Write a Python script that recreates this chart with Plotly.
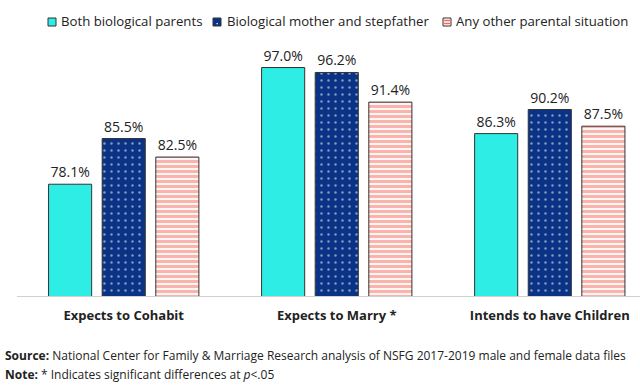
import plotly.graph_objects as go

categories = ["Expects to Cohabit", "Expects to Marry *", "Intends to have Children"]
series_names = ["Both biological parents", "Biological mother and stepfather", "Any other parental situation"]
both_parents = [78.1, 97.0, 86.3]
mother_stepfather = [85.5, 96.2, 90.2]
other_situation = [82.5, 91.4, 87.5]

FONT = "Open Sans"
CYAN = "#2EEDE4"
NAVY = "#0A3385"
SALMON = "#F56A58"
EDGE = "#333333"

# layout geometry (pixels)
W, H = 640, 385
ML, MR, MT, MB = 17, 0, 49, 89
PW = W - ML - MR
PH = H - MT - MB


def px2x(px):
    return (px - ML) / PW


def py2y(py):
    return (H - MB - py) / PH


fig = go.Figure()

fig.add_trace(go.Bar(
    name=series_names[0], x=categories, y=both_parents,
    text=[f"{v:.1f}%" for v in both_parents], textposition="outside",
    marker=dict(color=CYAN, line=dict(color=EDGE, width=1)),
    cliponaxis=False,
))
fig.add_trace(go.Bar(
    name=series_names[1], x=categories, y=mother_stepfather,
    text=[f"{v:.1f}%" for v in mother_stepfather], textposition="outside",
    marker=dict(color=NAVY, line=dict(color=EDGE, width=1),
                pattern=dict(shape=".", fgcolor="#FFFFFF", bgcolor=NAVY,
                             size=7, solidity=0.1)),
    cliponaxis=False,
))
fig.add_trace(go.Bar(
    name=series_names[2], x=categories, y=other_situation,
    text=[f"{v:.1f}%" for v in other_situation], textposition="outside",
    marker=dict(color="#FFFFFF", line=dict(color=EDGE, width=1),
                pattern=dict(shape="-", fgcolor=SALMON, bgcolor="#FFFFFF",
                             size=5, solidity=0.65, fillmode="overlay")),
    cliponaxis=False,
))

fig.update_traces(textfont=dict(family=FONT, size=14, color="#222222"))

# manual legend (compact squares like the reference)
legend_items = [(48, 60, CYAN, "none"), (213, 226, NAVY, "dot"), (443, 455, "#FFFFFF", "stripe")]
shapes = []
annotations = []
LY0, LY1 = 18, 26
for (sx, tx, col, pat), name in zip(legend_items, series_names):
    shapes.append(dict(type="rect", xref="paper", yref="paper",
                       x0=px2x(sx), x1=px2x(sx + 8), y0=py2y(LY1), y1=py2y(LY0),
                       fillcolor=col, line=dict(color=EDGE, width=1)))
    if pat == "dot":
        shapes.append(dict(type="rect", xref="paper", yref="paper",
                           x0=px2x(sx + 3.5), x1=px2x(sx + 4.8), y0=py2y(24.3), y1=py2y(23),
                           fillcolor="#FFFFFF", line=dict(width=0)))
    elif pat == "stripe":
        for yy in (20.5, 23.5):
            shapes.append(dict(type="line", xref="paper", yref="paper",
                               x0=px2x(sx + 0.5), x1=px2x(sx + 7.5), y0=py2y(yy), y1=py2y(yy),
                               line=dict(color=SALMON, width=1.5)))
    annotations.append(dict(text=name, xref="paper", yref="paper",
                            x=px2x(tx - 1), y=py2y(21.5), xanchor="left", yanchor="middle",
                            showarrow=False,
                            font=dict(family=FONT, size=13.2, color="#222222")))

annotations += [
    dict(text="<b>Source:</b> National Center for Family &amp; Marriage Research analysis of NSFG 2017-2019 male and female data files",
         xref="paper", yref="paper", x=px2x(3), y=py2y(355), xanchor="left", yanchor="middle",
         showarrow=False, font=dict(family=FONT, size=12, color="#222222")),
    dict(text="<b>Note:</b> * Indicates significant differences at <i>p</i>&lt;.05",
         xref="paper", yref="paper", x=px2x(3), y=py2y(374), xanchor="left", yanchor="middle",
         showarrow=False, font=dict(family=FONT, size=12, color="#222222")),
]

fig.update_layout(
    width=W, height=H,
    margin=dict(l=ML, r=MR, t=MT, b=MB),
    paper_bgcolor="white", plot_bgcolor="white",
    barmode="group", bargap=0.245, bargroupgap=0.196,
    font=dict(family=FONT, color="#222222"),
    showlegend=False,
    xaxis=dict(range=[-0.501, 2.4235], showline=True, linecolor="#D0D0D0",
               linewidth=1, ticks="", showgrid=False, automargin=False,
               ticklabelstandoff=7,
               tickfont=dict(family=FONT, size=13, color="#222222", weight="bold")),
    yaxis=dict(range=[60, 100], visible=False, showgrid=False),
    shapes=shapes,
    annotations=annotations,
)

fig.write_html("out.html", config={"displayModeBar": False},
               post_script="document.body.style.margin='0px';document.body.style.overflow='hidden';")
